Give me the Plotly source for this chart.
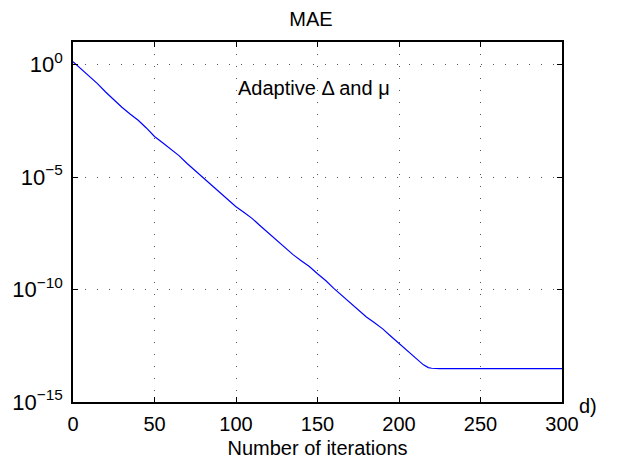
import plotly.graph_objects as go

iterations = [0, 5, 10, 15, 20, 25, 30, 35, 40, 45, 50, 55, 60, 65, 70, 75, 80, 85, 90, 95,
              100, 105, 110, 115, 120, 125, 130, 135, 140, 145, 150, 155, 160, 165, 170, 175,
              180, 185, 190, 195, 200, 205, 210, 215, 218, 220, 225, 230, 240, 250, 260, 270,
              280, 290, 300]
log_mae = [0.12, -0.20, -0.50, -0.85, -1.22, -1.57, -1.90, -2.20, -2.48, -2.82, -3.20, -3.48,
           -3.75, -4.05, -4.40, -4.72, -5.02, -5.33, -5.65, -6.00, -6.32, -6.58, -6.85, -7.18,
           -7.50, -7.82, -8.15, -8.45, -8.72, -8.98, -9.30, -9.60, -9.95, -10.27, -10.58,
           -10.90, -11.22, -11.48, -11.75, -12.08, -12.40, -12.73, -13.05, -13.35, -13.47,
           -13.50, -13.52, -13.52, -13.52, -13.52, -13.52, -13.52, -13.52, -13.52, -13.52]
mae = [10 ** v for v in log_mae]

x_ticks = [0, 50, 100, 150, 200, 250, 300]
y_tickvals = [1e-15, 1e-10, 1e-5, 1]
y_ticktext = ["10<sup>\u221215</sup>", "10<sup>\u221210</sup>", "10<sup>\u22125</sup>", "10<sup>0</sup>"]

FONT = "Liberation Sans, Arial, Helvetica, sans-serif"
FS = 20

fig = go.Figure()
fig.add_trace(go.Scatter(x=iterations, y=mae, mode="lines",
                         line=dict(color="#0000ff", width=1.2), showlegend=False))

axis_common = dict(showline=True, linecolor="black", linewidth=1.5, mirror="ticks",
                   ticks="inside", ticklen=5, tickcolor="black",
                   showgrid=True, gridcolor="#555555", gridwidth=1, griddash="1px,11px",
                   zeroline=False)

fig.update_xaxes(range=[0, 300], tickvals=x_ticks, **axis_common,
                 tickfont=dict(size=FS, color="black", family=FONT), ticklabelstandoff=3,
                 title=dict(text="Number of iterations", font=dict(size=FS, color="black", family=FONT),
                            standoff=7))
fig.update_yaxes(type="log", range=[-15, 1], tickvals=y_tickvals, ticktext=y_ticktext,
                 **axis_common, tickfont=dict(size=22, color="black", family=FONT),
                 ticklabelstandoff=4)

fig.add_annotation(x=100, y=-1.04, xref="x", yref="y", text="Adaptive \u0394 and \u03bc",
                   showarrow=False, xanchor="left", yanchor="middle",
                   font=dict(size=FS, color="black", family=FONT))
fig.add_annotation(x=1.03, y=-0.01, xref="paper", yref="paper", text="d)",
                   showarrow=False, xanchor="left", yanchor="middle",
                   font=dict(size=FS, color="black", family=FONT))

fig.update_layout(
    width=622, height=468,
    margin=dict(l=71, r=60, t=42, b=66),
    paper_bgcolor="white", plot_bgcolor="white",
    title=dict(text="MAE", x=0.5, xanchor="center", y=0.96, yanchor="middle",
               font=dict(size=FS, color="black", family=FONT)),
    font=dict(family=FONT, color="black"),
)

fig.write_html("out.html")
